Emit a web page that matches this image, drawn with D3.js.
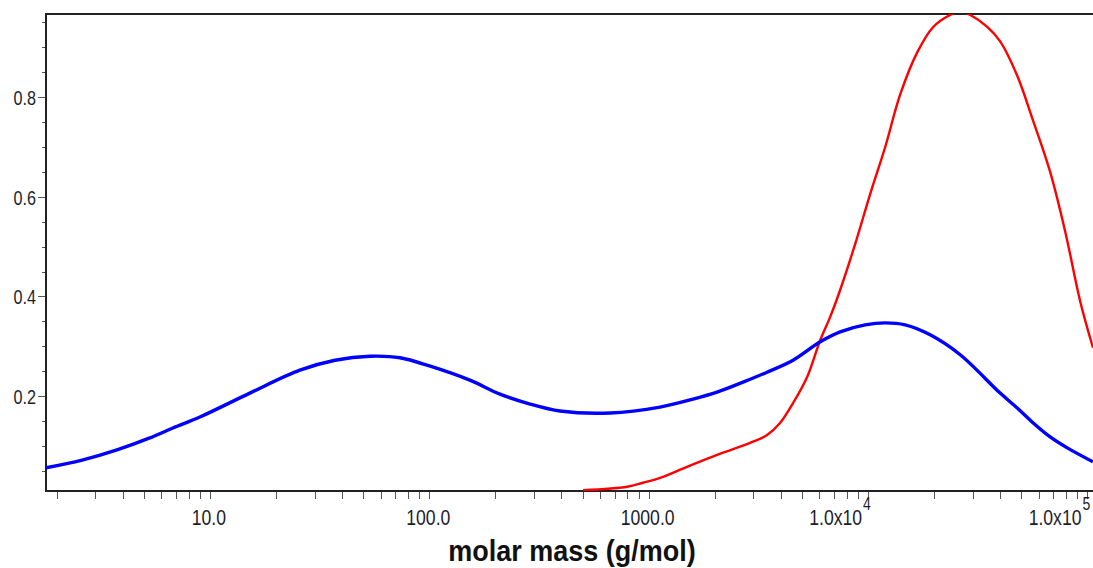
<!DOCTYPE html>
<html>
<head>
<meta charset="utf-8">
<script src="https://cdn.jsdelivr.net/npm/d3@7"></script>
<style>
  body { margin: 0; background: #fff; }
  text { font-family: Arial, "Liberation Sans", sans-serif; fill: #1e1e2a; }
</style>
</head>
<body>
<svg id="chart" width="1093" height="568"></svg>
<script>
// molar mass (g/mol) and signal values
var blueMass = [1.79, 2.64, 3.77, 5.32, 6.78, 9.0, 15.2, 25.7, 37.2, 53.7, 73.5, 101, 153, 210, 288, 394, 667,
                1127, 1593, 2050, 2692, 3465, 4550, 6050, 7460, 9700, 11970, 14760, 19190, 26300, 40000,
                47860, 56600, 67600, 80900, 106000];
var blueVal  = [0.056, 0.072, 0.092, 0.116, 0.136, 0.158, 0.206, 0.252, 0.272, 0.280, 0.277, 0.260, 0.232, 0.204,
                0.184, 0.170, 0.166, 0.178, 0.194, 0.208, 0.228, 0.248, 0.272, 0.309, 0.329, 0.343, 0.347, 0.343,
                0.323, 0.283, 0.206, 0.176, 0.146, 0.118, 0.096, 0.068];

var redMass = [502, 798, 942, 1127, 1496, 2050, 2900, 3465, 3970, 4550, 5270, 6050, 6720, 7460, 8730, 10230,
               11970, 14000, 16750, 19820, 23660, 26300, 29240, 34930, 40000, 47860, 56000, 67600, 79200,
               92700, 106000];
var redVal  = [0.011, 0.018, 0.026, 0.036, 0.058, 0.082, 0.106, 0.122, 0.146, 0.186, 0.238, 0.312, 0.359, 0.413,
               0.505, 0.606, 0.700, 0.805, 0.890, 0.941, 0.965, 0.972, 0.965, 0.941, 0.912, 0.843, 0.758,
               0.650, 0.530, 0.390, 0.297];

var yTicks = [0.2, 0.4, 0.6, 0.8];
var yTickLabels = ["0.2", "0.4", "0.6", "0.8"];
var xTicks = [10, 100, 1000, 10000, 100000];
var xTickLabels = [["10.0", ""], ["100.0", ""], ["1000.0", ""], ["1.0x10", "4"], ["1.0x10", "5"]];
var xTitle = "molar mass (g/mol)";

var svg = d3.select("#chart");
var plotL = 46, plotR = 1093, plotT = 14, plotB = 491;

var x = d3.scaleLog().domain([1.79, 106000]).range([plotL, plotR]);
var y = d3.scaleLinear().domain([0.0095, 0.967]).range([plotB, plotT]);

svg.append("clipPath").attr("id", "clip")
   .append("rect").attr("x", plotL).attr("y", plotT).attr("width", plotR - plotL).attr("height", plotB - plotT);

// minor ticks
var yMinor = d3.range(0.05, 0.96, 0.05);
svg.selectAll(".yminor").data(yMinor).enter().append("line")
   .attr("x1", plotL - 4).attr("x2", plotL)
   .attr("y1", function(d){ return Math.round(y(d)) + 0.5; })
   .attr("y2", function(d){ return Math.round(y(d)) + 0.5; })
   .attr("stroke", "#555").attr("stroke-width", 1);
svg.selectAll(".ymajor").data(yTicks).enter().append("line")
   .attr("x1", plotL - 8).attr("x2", plotL)
   .attr("y1", function(d){ return Math.round(y(d)) + 0.5; })
   .attr("y2", function(d){ return Math.round(y(d)) + 0.5; })
   .attr("stroke", "#555").attr("stroke-width", 1);

var xMinor = [];
[1, 10, 100, 1000, 10000, 100000].forEach(function(dec){
    for (var k = 1; k < 10; k++) {
        var v = dec * k;
        if (v >= 1.79 && v <= 106000) xMinor.push(v);
    }
});
svg.selectAll(".xtick").data(xMinor).enter().append("line")
   .attr("x1", function(d){ return Math.round(x(d)) + 0.5; })
   .attr("x2", function(d){ return Math.round(x(d)) + 0.5; })
   .attr("y1", plotB).attr("y2", plotB + 8)
   .attr("stroke", "#555").attr("stroke-width", 1);

// frame
svg.append("path")
   .attr("d", "M" + plotR + "," + plotT + "H" + plotL + "V" + plotB + "H" + plotR)
   .attr("fill", "none").attr("stroke", "#222").attr("stroke-width", 2);

// tick labels
svg.selectAll(".ylab").data(yTicks).enter().append("text")
   .attr("transform", function(d){ return "translate(36," + (y(d) + 8) + ") scale(0.9,1.12)"; })
   .attr("text-anchor", "end")
   .style("font-size", "18px")
   .text(function(d, i){ return yTickLabels[i]; });

xTicks.forEach(function(t, i){
    var lab = xTickLabels[i];
    var px = x(t);
    if (lab[1] === "") {
        svg.append("text")
           .attr("transform", "translate(" + (px - 1) + ",525) scale(0.88,1.12)")
           .attr("text-anchor", "middle")
           .style("font-size", "20px")
           .text(lab[0]);
    } else {
        svg.append("text")
           .attr("transform", "translate(" + (px - 6) + ",525) scale(0.88,1.12)")
           .attr("text-anchor", "end")
           .style("font-size", "20px")
           .text(lab[0]);
        svg.append("text")
           .attr("transform", "translate(" + (px - 5) + ",510) scale(0.88,1.12)")
           .style("font-size", "16px")
           .text(lab[1]);
    }
});

svg.append("text")
   .attr("transform", "translate(572,561) scale(1,1.12)")
   .attr("text-anchor", "middle")
   .style("font-size", "27px").style("font-weight", "bold")
   .style("fill", "#111")
   .text(xTitle);

// curves
var line = d3.line()
    .x(function(d){ return x(d[0]); })
    .y(function(d){ return y(d[1]); })
    .curve(d3.curveCatmullRom.alpha(0.5));

var plot = svg.append("g").attr("clip-path", "url(#clip)");
plot.append("path")
    .datum(redMass.map(function(m, i){ return [m, redVal[i]]; }))
    .attr("d", line).attr("fill", "none").attr("stroke", "#ff0000").attr("stroke-width", 2.4);
plot.append("path")
    .datum(blueMass.map(function(m, i){ return [m, blueVal[i]]; }))
    .attr("d", line).attr("fill", "none").attr("stroke", "#0000ff").attr("stroke-width", 3.4);
</script>
</body>
</html>
